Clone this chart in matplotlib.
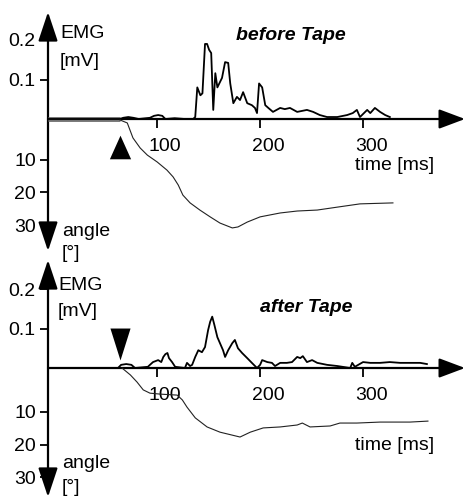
import numpy as np
import matplotlib.pyplot as plt
from matplotlib.transforms import ScaledTranslation

plt.rcParams['font.family'] = ['Liberation Sans', 'DejaVu Sans']

W, H = 466, 497

# ---------------------------------------------------------
# Data
# ---------------------------------------------------------
time_ticks = [100, 200, 300]
emg_ticks = [0.1, 0.2]
angle_ticks = [10, 20, 30]
trigger_ms = [64, 64]

# before tape: rectified EMG [mV]
before_emg_t = [-6, 64, 67, 72, 77, 82, 93, 97, 101, 105, 108, 117, 127, 135,
                137, 139, 142, 144, 146.5, 148.5, 150.5, 152.5, 154.5, 156.5,
                158.5, 163, 166, 169, 171, 174, 177.5, 180.5, 183.5, 187.5,
                192, 195, 197, 199, 202, 205, 208, 212.5, 219.5, 224, 229,
                236, 245.5, 251.5, 258, 265, 275, 284.5, 290, 294, 297, 304,
                307, 311.5, 316.5, 321.5, 326]
before_emg_mv = [0, 0, 0.003, 0.005, 0.003, 0, 0.003, 0.008, 0.01, 0.008, 0,
                 0.002, 0, 0, 0.005, 0.08, 0.06, 0.065, 0.19, 0.19, 0.175,
                 0.167, 0.023, 0.116, 0.08, 0.104, 0.144, 0.142, 0.09, 0.04,
                 0.056, 0.048, 0.068, 0.04, 0.035, 0.028, 0.015, 0.09, 0.08,
                 0.035, 0.028, 0.018, 0.028, 0.025, 0.028, 0.018, 0.023,
                 0.018, 0.01, 0.005, 0.005, 0.01, 0.015, 0.023, 0.005, 0.023,
                 0.015, 0.028, 0.018, 0.01, 0.005]

# before tape: joint angle [deg]
before_ang_t = [64, 71, 76.5, 83.5, 90.5, 100, 109.5, 115.5, 120.5, 125, 132,
                141.5, 151.5, 161, 173, 178.5, 187.5, 200, 219.5, 236, 255.5,
                275, 297, 329]
before_ang_deg = [-2.3, -1.4, 3.2, 6.3, 8.5, 10.6, 13.1, 15.2, 17.7, 20.8,
                  23.2, 25.4, 27.5, 29.4, 30.9, 30.6, 29.1, 27.5, 26.3, 25.7,
                  25.4, 24.5, 23.5, 23.2]

# after tape: rectified EMG [mV]
after_emg_t = [-6, 62, 65, 70, 75, 78.5, 91, 93, 96, 101, 104, 106, 108, 110,
               111.5, 114.5, 117.5, 127, 129, 132, 134, 137, 140, 143.5, 146.5,
               149.5, 151.5, 153.5, 155.5, 158.5, 161, 164, 166, 169, 173,
               175.5, 178.5, 182.5, 187.5, 192, 197, 200, 202, 207, 211.5,
               214.5, 219.5, 226, 231, 236, 239, 241.5, 245.5, 250.5, 255.5,
               265, 275, 287.5, 289.5, 292, 300, 307, 316.5, 326, 336, 345.5,
               355.5, 362]
after_emg_mv = [0, 0, 0.008, 0.01, 0.008, 0, 0.003, 0.008, 0.015, 0.02, 0.015,
                0.028, 0.035, 0.038, 0.025, 0.015, 0.003, 0, 0.013, 0.005,
                0.008, 0.028, 0.045, 0.04, 0.053, 0.096, 0.117, 0.13, 0.11,
                0.078, 0.063, 0.045, 0.028, 0.045, 0.063, 0.071, 0.05, 0.038,
                0.025, 0.013, 0, 0.008, 0.02, 0.015, 0.013, 0.005, 0.013,
                0.013, 0.015, 0.028, 0.025, 0.03, 0.015, 0.02, 0.013, 0.008,
                0.005, 0, 0.013, 0.003, 0.015, 0.013, 0.013, 0.015, 0.013,
                0.013, 0.013, 0.01]

# after tape: joint angle [deg]
after_ang_t = [66, 74, 80.5, 86.5, 93, 103, 119.5, 124.5, 129, 137, 148.5, 161,
               180.5, 190.5, 203, 219.5, 236, 241, 248.5, 268, 277.5, 294,
               316.5, 345.5, 363]
after_ang_deg = [-3.5, -1.4, 0.8, 3.2, 4.2, 4.5, 4.8, 6.3, 8.5, 11.8, 14.6,
                 16.2, 17.7, 16.2, 14.9, 14.6, 14.0, 13.4, 14.6, 14.3, 13.4,
                 13.4, 13.1, 13.1, 12.8]

# ---------------------------------------------------------
# Layout helpers (pixel positions of the scanned figure)
# ---------------------------------------------------------
fig = plt.figure(figsize=(W / 100, H / 100), dpi=100)

X0, X1 = 48, 465
T0, T1 = -6, 399
MV_PX = 395.0     # px per mV
DEG_PX = 3.25     # px per degree
FS = 14


def fpos(x, y):
    return x / W, 1 - y / H


def panel(top, bot, base, ang0, emg_t, emg_mv, ang_t, ang_deg, trig,
          trig_mv, trig_marker, trig_size):
    ax = fig.add_axes([X0 / W, 1 - bot / H, (X1 - X0) / W, (bot - top) / H])
    ax.set_xlim(T0, T1)
    ax.set_ylim(-(bot - base) / MV_PX, (base - top) / MV_PX)
    ax2 = ax.twinx()
    ax2.set_ylim((bot - ang0) / DEG_PX, (top - ang0) / DEG_PX)

    for a in (ax, ax2):
        for s in a.spines.values():
            s.set_color('none')
    ax.spines['bottom'].set_position(('data', 0))

    # traces
    ax.plot(emg_t, emg_mv, color='k', lw=1.3, zorder=3)
    ax2.plot(ang_t, ang_deg, color='#222222', lw=0.8, zorder=3)
    ax.plot([trig], [trig_mv], marker=trig_marker, ms=trig_size,
            color='k', mec='none', zorder=4)

    # axis arrows
    ybase = (bot - base) / (bot - top)
    ax.annotate('', xy=(1, ybase), xytext=(0, ybase),
                xycoords='axes fraction',
                arrowprops=dict(arrowstyle='-|>,head_length=1.6,head_width=0.6',
                                mutation_scale=10, lw=1.6, color='k',
                                shrinkA=0, shrinkB=0), zorder=2)
    ax.annotate('', xy=(0, 1), xytext=(0, 0), xycoords='axes fraction',
                arrowprops=dict(arrowstyle='<|-|>,head_length=1.8,head_width=0.6',
                                mutation_scale=10, lw=1.6, color='k',
                                shrinkA=0, shrinkB=0), zorder=2)

    # ticks
    ax.set_xticks(time_ticks)
    ax.set_xticklabels([str(t) for t in time_ticks])
    ax.tick_params(axis='x', direction='out', length=6.5, width=1.3,
                   pad=7, labelsize=FS)
    off = ScaledTranslation(8 / 100, 0, fig.dpi_scale_trans)
    for lab in ax.get_xticklabels():
        lab.set_transform(lab.get_transform() + off)

    ax.set_yticks(emg_ticks)
    ax.set_yticklabels(['0.1', '0.2'])
    ax.tick_params(axis='y', direction='out', length=5.8, width=1.3,
                   pad=3, labelsize=FS)
    ax2.yaxis.tick_left()
    ax2.set_yticks(angle_ticks)
    ax2.set_yticklabels([str(a) for a in angle_ticks])
    ax2.tick_params(axis='y', direction='out', length=5.8, width=1.3,
                    pad=3, labelsize=FS)
    return ax


up_tri = [(-0.9, -1), (0.9, -1), (0, 1)]
down_tri = [(-0.63, 1), (0.63, 1), (0, -1)]

ax_top = panel(12, 251, 119, 127.5, before_emg_t, before_emg_mv,
               before_ang_t, before_ang_deg, trigger_ms[0], -0.072,
               up_tri, 17)
# pre-trigger baseline appears as a thick grey band in the scan
pre = np.array(before_emg_t) <= trigger_ms[0]
ax_top.plot(np.array(before_emg_t)[pre], np.array(before_emg_mv)[pre],
            color='0.45', lw=3.5, zorder=2.5, solid_capstyle='butt')

ax_bot = panel(260, 497, 368, 379.5, after_emg_t, after_emg_mv,
               after_ang_t, after_ang_deg, trigger_ms[1], 0.062,
               down_tri, 23)

# ---------------------------------------------------------
# Text
# ---------------------------------------------------------
labels = [
    (60, 34, 'EMG'), (60, 61, '[mV]'), (62, 231, 'angle'), (62, 254, '[°]'),
    (355, 166, 'time [ms]'),
    (58, 285, 'EMG'), (58, 312, '[mV]'), (62, 463, 'angle'), (62, 487, '[°]'),
    (355, 445, 'time [ms]'),
]
for x, y, s in labels:
    fig.text(*fpos(x, y), s, fontsize=FS, ha='left', va='center')

fig.text(*fpos(236, 35), 'before Tape', fontsize=FS, fontweight='bold',
         fontstyle='italic', ha='left', va='center')
fig.text(*fpos(260, 307), 'after Tape', fontsize=FS, fontweight='bold',
         fontstyle='italic', ha='left', va='center')

fig.savefig('out.png', dpi=100)
